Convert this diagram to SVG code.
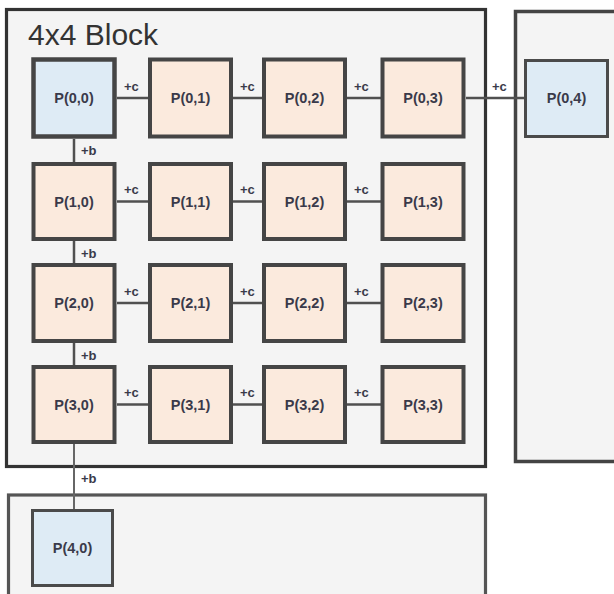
<svg xmlns="http://www.w3.org/2000/svg" width="614" height="594" viewBox="0 0 614 594">
<style>
.blk{fill:#f4f4f4;}
.pe{fill:#fbeadd;stroke:#454545;stroke-width:4;}
.pb{fill:#deebf5;stroke:#454545;stroke-width:4.5;}
.po{fill:#deebf5;stroke:#4a4a4a;stroke-width:3;}
.t{font-family:"Liberation Sans",Arial,sans-serif;font-weight:bold;font-size:14.5px;fill:#3a3a4a;text-anchor:middle;}
.l{font-family:"Liberation Sans",Arial,sans-serif;font-weight:bold;font-size:13px;fill:#3a3a4a;}
.c{stroke:#505050;stroke-width:2.5;fill:none;}
</style>
<rect class="blk" x="6.5" y="9.5" width="479" height="457" stroke="#333" stroke-width="3.2"/>
<rect class="blk" x="515.5" y="11.5" width="110" height="450" stroke="#444" stroke-width="3.5"/>
<rect class="blk" x="8.5" y="495" width="477" height="110" stroke="#555" stroke-width="3.2"/>
<text x="28" y="45" font-family="'Liberation Sans',Arial,sans-serif" font-size="30" fill="#333">4x4 Block</text>
<g id="connectors">
<line class="c" x1="117" y1="98" x2="148" y2="98"/><line class="c" x1="233" y1="98" x2="262" y2="98"/><line class="c" x1="347" y1="98" x2="381" y2="98"/><line class="c" x1="466" y1="98" x2="524" y2="98"/>
<line class="c" x1="117" y1="201.5" x2="148" y2="201.5"/><line class="c" x1="233" y1="201.5" x2="262" y2="201.5"/><line class="c" x1="347" y1="201.5" x2="381" y2="201.5"/>
<line class="c" x1="117" y1="303" x2="148" y2="303"/><line class="c" x1="233" y1="303" x2="262" y2="303"/><line class="c" x1="347" y1="303" x2="381" y2="303"/>
<line class="c" x1="117" y1="404.5" x2="148" y2="404.5"/><line class="c" x1="233" y1="404.5" x2="262" y2="404.5"/><line class="c" x1="347" y1="404.5" x2="381" y2="404.5"/>
<line class="c" x1="74" y1="139" x2="74" y2="162"/><line class="c" x1="74" y1="241" x2="74" y2="263"/><line class="c" x1="74" y1="343" x2="74" y2="365"/>
<line x1="74" y1="444" x2="74" y2="509" stroke="#666" stroke-width="2"/>
<text class="l" x="124" y="91">+c</text><text class="l" x="240" y="91">+c</text><text class="l" x="354" y="91">+c</text><text class="l" x="492" y="91">+c</text>
<text class="l" x="124" y="194">+c</text><text class="l" x="240" y="194">+c</text><text class="l" x="354" y="194">+c</text>
<text class="l" x="124" y="296">+c</text><text class="l" x="240" y="296">+c</text><text class="l" x="354" y="296">+c</text>
<text class="l" x="124" y="397">+c</text><text class="l" x="240" y="397">+c</text><text class="l" x="354" y="397">+c</text>
<text class="l" x="81" y="155">+b</text><text class="l" x="81" y="258">+b</text><text class="l" x="81" y="360">+b</text><text class="l" x="81" y="483">+b</text>
</g>
<g id="P00"><rect class="pb" x="33.5" y="59.5" width="81" height="77"/><text class="t" x="74" y="103">P(0,0)</text></g>
<g id="P01"><rect class="pe" x="150" y="59.5" width="81" height="77"/><text class="t" x="190.5" y="103">P(0,1)</text></g>
<g id="P02"><rect class="pe" x="264" y="59.5" width="81" height="77"/><text class="t" x="304.5" y="103">P(0,2)</text></g>
<g id="P03"><rect class="pe" x="382.5" y="59.5" width="81" height="77"/><text class="t" x="423" y="103">P(0,3)</text></g>
<g id="P04"><rect class="po" x="525.5" y="60.5" width="82" height="76"/><text class="t" x="566.5" y="103">P(0,4)</text></g>
<g id="P10"><rect class="pe" x="33.5" y="164" width="81" height="75"/><text class="t" x="74" y="206.5">P(1,0)</text></g>
<g id="P11"><rect class="pe" x="150" y="164" width="81" height="75"/><text class="t" x="190.5" y="206.5">P(1,1)</text></g>
<g id="P12"><rect class="pe" x="264" y="164" width="81" height="75"/><text class="t" x="304.5" y="206.5">P(1,2)</text></g>
<g id="P13"><rect class="pe" x="382.5" y="164" width="81" height="75"/><text class="t" x="423" y="206.5">P(1,3)</text></g>
<g id="P20"><rect class="pe" x="33.5" y="265" width="81" height="76"/><text class="t" x="74" y="308">P(2,0)</text></g>
<g id="P21"><rect class="pe" x="150" y="265" width="81" height="76"/><text class="t" x="190.5" y="308">P(2,1)</text></g>
<g id="P22"><rect class="pe" x="264" y="265" width="81" height="76"/><text class="t" x="304.5" y="308">P(2,2)</text></g>
<g id="P23"><rect class="pe" x="382.5" y="265" width="81" height="76"/><text class="t" x="423" y="308">P(2,3)</text></g>
<g id="P30"><rect class="pe" x="33.5" y="367" width="81" height="75"/><text class="t" x="74" y="409.5">P(3,0)</text></g>
<g id="P31"><rect class="pe" x="150" y="367" width="81" height="75"/><text class="t" x="190.5" y="409.5">P(3,1)</text></g>
<g id="P32"><rect class="pe" x="264" y="367" width="81" height="75"/><text class="t" x="304.5" y="409.5">P(3,2)</text></g>
<g id="P33"><rect class="pe" x="382.5" y="367" width="81" height="75"/><text class="t" x="423" y="409.5">P(3,3)</text></g>
<g id="P40"><rect class="po" x="32.5" y="510.5" width="80" height="75"/><text class="t" x="72.5" y="553">P(4,0)</text></g>
</svg>
